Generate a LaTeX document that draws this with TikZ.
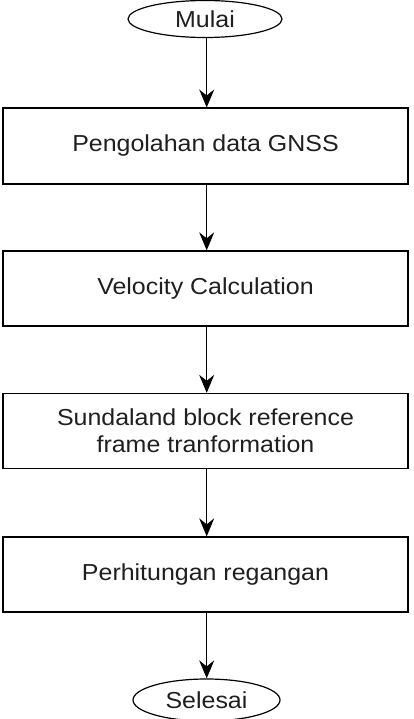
\documentclass[tikz,border=0pt]{standalone}
\usepackage{fontspec}
\setmainfont{Liberation Sans}[FakeStretch=1.08]
\usetikzlibrary{shapes.geometric,arrows.meta}
\begin{document}
\begin{tikzpicture}[x=1bp,y=-1bp,
  every node/.style={font=\fontsize{23.2}{27.5}\selectfont, text=black!88},
  procbox/.style={draw, line width=1.3bp, rectangle, minimum width=405bp, minimum height=75bp, inner sep=0pt, align=center},
  terminal/.style={draw, line width=1.2bp, ellipse, inner sep=0pt},
  flow/.style={line width=1bp, -{Stealth[length=18bp, width=15bp, inset=6bp]}}]
  \useasboundingbox (0,0) rectangle (413,719);
  \node[terminal, minimum width=154bp, minimum height=37bp] (start) at (205,19) {Mulai};
  \node[procbox, line width=2bp] (gnss) at (205.5,146) {Pengolahan data GNSS};
  \node[procbox] (vel) at (205.5,288.5) {Velocity Calculation};
  \node[procbox] (frame) at (205.5,431) {Sundaland block reference\\frame tranformation};
  \node[procbox] (strain) at (205.5,574.5) {Perhitungan regangan};
  \node[terminal, minimum width=147bp, minimum height=42bp] (stop) at (206.5,700) {Selesai};
  \draw[flow] (start.south -| 206.7,0) -- (gnss.north -| 206.7,0);
  \draw[flow] (gnss.south -| 206.7,0) -- (vel.north -| 206.7,0);
  \draw[flow] (vel.south -| 206.7,0) -- (frame.north -| 206.7,0);
  \draw[flow] (frame.south -| 206.7,0) -- (strain.north -| 206.7,0);
  \draw[flow] (strain.south -| 206.7,0) -- (stop.north -| 206.7,0);
\end{tikzpicture}
\end{document}
